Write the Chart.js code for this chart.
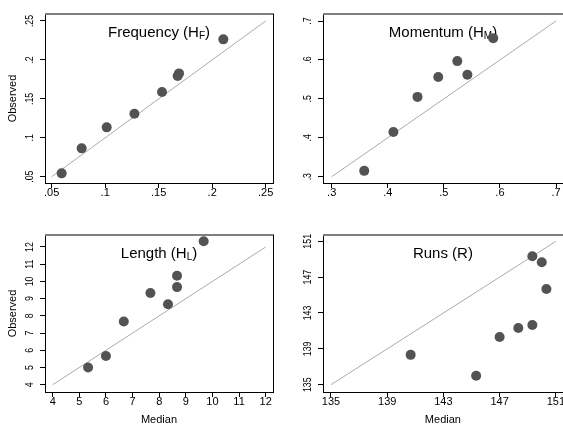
<!DOCTYPE html>
<html>
<head>
<meta charset="utf-8">
<script src="https://cdn.jsdelivr.net/npm/chart.js@4.4.1/dist/chart.umd.min.js"></script>
<style>
  body { margin: 0; width: 563px; height: 424px; overflow: hidden; background: #fff; position: relative; }
  canvas { position: absolute; left: 0; top: 0; }
</style>
</head>
<body>
<canvas id="freq" width="563" height="430"></canvas>
<canvas id="mom" width="563" height="430"></canvas>
<canvas id="len" width="563" height="430"></canvas>
<canvas id="runs" width="563" height="430"></canvas>
<script>
// Frequency (H_F)
var freqMedian   = [0.0593, 0.0780, 0.1014, 0.1273, 0.1531, 0.1677, 0.1690, 0.2104];
var freqObserved = [0.0543, 0.0864, 0.1134, 0.1309, 0.1588, 0.1793, 0.1827, 0.2264];
var freqTicks = [0.05, 0.1, 0.15, 0.2, 0.25];
var freqTickLabels = ['.05', '.1', '.15', '.2', '.25'];

// Momentum (H_M)
var momMedian   = [0.358, 0.410, 0.453, 0.490, 0.524, 0.542, 0.588];
var momObserved = [0.315, 0.415, 0.505, 0.556, 0.597, 0.562, 0.656];
var momTicks = [0.3, 0.4, 0.5, 0.6, 0.7];
var momTickLabels = ['.3', '.4', '.5', '.6', '.7'];

// Length (H_L)
var lenMedian   = [5.33, 6.00, 6.67, 7.67, 8.33, 8.67, 8.67, 9.67];
var lenObserved = [5.00, 5.67, 7.67, 9.33, 8.67, 9.67, 10.33, 12.33];
var lenTicks = [4, 5, 6, 7, 8, 9, 10, 11, 12];
var lenTickLabels = ['4', '5', '6', '7', '8', '9', '10', '11', '12'];

// Runs (R)
var runsMedian   = [140.67, 145.33, 147.00, 148.33, 149.33, 149.33, 150.00, 150.33];
var runsObserved = [138.33, 136.00, 140.33, 141.33, 141.67, 149.33, 148.67, 145.67];
var runsTicks = [135, 139, 143, 147, 151];
var runsTickLabels = ['135', '139', '143', '147', '151'];

var FONT = '"Liberation Sans", Arial, Helvetica, sans-serif';

var panelDeco = {
  id: 'panelDeco',
  beforeDatasetsDraw: function(chart, args, opts) {
    var ctx = chart.ctx, a = chart.chartArea;
    ctx.save();
    ctx.fillStyle = '#000';
    ctx.textBaseline = 'alphabetic';
    ctx.textAlign = 'left';
    ctx.font = '15px ' + FONT;
    var w1 = ctx.measureText(opts.title[0]).width;
    var w3 = ctx.measureText(opts.title[2]).width;
    ctx.font = '10px ' + FONT;
    var w2 = ctx.measureText(opts.title[1]).width;
    var x = (a.left + a.right) / 2 - (w1 + w2 + w3) / 2;
    var base = a.top + 23;
    ctx.font = '15px ' + FONT;
    ctx.fillText(opts.title[0], x, base);
    ctx.font = '10px ' + FONT;
    ctx.fillText(opts.title[1], x + w1, base + 2);
    ctx.font = '15px ' + FONT;
    ctx.fillText(opts.title[2], x + w1 + w2, base);
    ctx.restore();
  },
  afterDraw: function(chart, args, opts) {
    var ctx = chart.ctx, a = chart.chartArea;
    var ys = chart.scales.y;
    ctx.save();
    // frame: grey top, black right
    ctx.fillStyle = '#7f7f7f';
    ctx.fillRect(a.left, a.top - 1, a.right - a.left + 1, 2);
    if (opts.rightBorder) {
      ctx.fillStyle = '#000';
      ctx.fillRect(Math.round(a.right), a.top, 1, a.bottom - a.top + 1);
    }
    // vertical y tick labels (a bit condensed along the axis, as in the original)
    ctx.fillStyle = '#000';
    ctx.font = '11px ' + FONT;
    ctx.textAlign = 'center';
    ctx.textBaseline = 'middle';
    opts.yTicks.forEach(function(v, i) {
      var y = ys.getPixelForValue(v);
      ctx.save();
      ctx.translate(a.left - 15, y);
      ctx.rotate(-Math.PI / 2);
      ctx.scale(0.8, 1.05);
      ctx.fillText(opts.yTickLabels[i], 0, 0);
      ctx.restore();
    });
    ctx.restore();
  }
};

function toPoints(xs, ys) {
  return xs.map(function(v, i) { return {x: v, y: ys[i]}; });
}

function makePanel(id, p) {
  var xTicks = p.ticks, xLabels = p.tickLabels;
  new Chart(document.getElementById(id), {
    type: 'scatter',
    data: {
      datasets: [
        {
          data: toPoints(p.median, p.observed),
          backgroundColor: '#535353',
          borderWidth: 0,
          pointRadius: 5,
          pointHoverRadius: 5
        },
        {
          data: toPoints([xTicks[0], xTicks[xTicks.length - 1]], [xTicks[0], xTicks[xTicks.length - 1]]),
          showLine: true,
          borderColor: '#aaaaaa',
          borderWidth: 1,
          pointRadius: 0
        }
      ]
    },
    options: {
      responsive: false,
      animation: false,
      events: [],
      layout: { autoPadding: false, padding: p.pad },
      plugins: {
        legend: { display: false },
        tooltip: { enabled: false },
        panelDeco: {
          title: p.title,
          yTicks: xTicks,
          yTickLabels: xLabels,
          rightBorder: p.rightBorder
        }
      },
      scales: {
        x: {
          type: 'linear',
          min: p.xmin, max: p.xmax,
          afterFit: function(s) { s.height = p.xH; },
          afterBuildTicks: function(s) { s.ticks = xTicks.map(function(v) { return {value: v}; }); },
          grid: { display: true, drawOnChartArea: false, drawTicks: true, tickLength: 5, color: '#000' },
          border: { display: true, color: '#000', width: 1 },
          ticks: {
            padding: -2,
            color: '#000',
            maxRotation: 0,
            autoSkip: false,
            font: { family: FONT, size: 11 },
            callback: function(v, i) { return xLabels[i]; }
          },
          title: {
            display: p.xTitle,
            text: 'Median',
            color: '#000',
            font: { family: FONT, size: 11 },
            padding: { top: 0, bottom: 3 }
          }
        },
        y: {
          type: 'linear',
          min: p.ymin, max: p.ymax,
          afterFit: function(s) { s.width = 45; },
          afterBuildTicks: function(s) { s.ticks = xTicks.map(function(v) { return {value: v}; }); },
          grid: { display: true, drawOnChartArea: false, drawTicks: true, tickLength: 5, color: '#000' },
          border: { display: true, color: '#000', width: 1 },
          ticks: { display: false },
          title: {
            display: p.yTitle,
            text: 'Observed',
            color: '#000',
            font: { family: FONT, size: 11 },
            padding: { top: 6.4, bottom: 0 }
          }
        }
      }
    },
    plugins: [panelDeco]
  });
}

makePanel('freq', {
  median: freqMedian, observed: freqObserved, ticks: freqTicks, tickLabels: freqTickLabels,
  title: ['Frequency (H', 'F', ')'],
  xmin: 0.04374, xmax: 0.25682, ymin: 0.04191, ymax: 0.25899,
  pad: {left: 0, top: 14, right: 290, bottom: 0}, xH: 247,
  xTitle: false, yTitle: true, rightBorder: true
});

makePanel('mom', {
  median: momMedian, observed: momObserved, ticks: momTicks, tickLabels: momTickLabels,
  title: ['Momentum (H', 'M', ')'],
  xmin: 0.28449, xmax: 0.71248, ymin: 0.28381, ymax: 0.71799,
  pad: {left: 278, top: 14, right: 0, bottom: 0}, xH: 247,
  xTitle: false, yTitle: false, rightBorder: false
});

makePanel('len', {
  median: lenMedian, observed: lenObserved, ticks: lenTicks, tickLabels: lenTickLabels,
  title: ['Length (H', 'L', ')'],
  xmin: 3.7108, xmax: 12.274, ymin: 3.576, ymax: 12.697,
  pad: {left: 0, top: 235, right: 290, bottom: 0}, xH: 38,
  xTitle: true, yTitle: true, rightBorder: true
});

makePanel('runs', {
  median: runsMedian, observed: runsObserved, ticks: runsTicks, tickLabels: runsTickLabels,
  title: ['Runs (R)', '', ''],
  xmin: 134.431, xmax: 151.498, ymin: 134.185, ymax: 151.703,
  pad: {left: 278, top: 235, right: 0, bottom: 0}, xH: 38,
  xTitle: true, yTitle: false, rightBorder: false
});
</script>
</body>
</html>
